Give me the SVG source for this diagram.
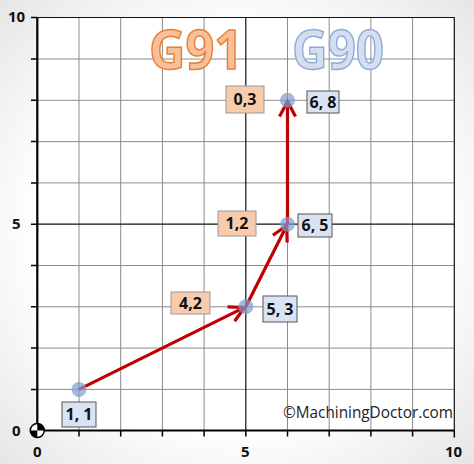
<svg xmlns="http://www.w3.org/2000/svg" width="474" height="464" viewBox="0 0 474 464">
<defs>
<radialGradient id="bg" cx="50%" cy="50%" r="70%">
<stop offset="0.6" stop-color="#ffffff"/>
<stop offset="1" stop-color="#e6e6e6"/>
</radialGradient>
<marker id="ah" markerUnits="userSpaceOnUse" markerWidth="30" markerHeight="30" viewBox="-20 -15 30 30" refX="0" refY="0" orient="auto">
<path d="M-15,-8 L0,0 L-15,8" fill="none" stroke="#c00000" stroke-width="3.2" stroke-linejoin="miter"/>
</marker>
</defs>
<style>
.grid{stroke:#8c8c8c;stroke-width:1;fill:none}
.major{stroke:#111;stroke-width:1.2;fill:none}
.axis{stroke:#000;stroke-width:2.2;fill:none}
.tick{stroke:#000;stroke-width:1.5;fill:none}
.ax{font-family:"Open Sans","Liberation Sans",sans-serif;font-weight:bold;font-size:15px;fill:#111}
.lbl{font-family:"Open Sans","Liberation Sans",sans-serif;font-weight:bold;font-size:16px;fill:#111;text-anchor:middle}
.bbox{fill:#dae3f3;stroke:#555;stroke-width:1}
.obox{fill:#f8cbad;stroke:#999;stroke-width:1}
.pt{fill:#7f9bd0;fill-opacity:0.7}
.arr{stroke:#c00000;stroke-width:3.2;fill:none;marker-end:url(#ah)}
</style>
<rect x="0" y="0" width="474" height="464" fill="url(#bg)"/>
<rect x="37.3" y="17.5" width="417" height="413" fill="#ffffff"/>
<g id="grid">
<path class="grid" d="M79,17.5V430.5M120.7,17.5V430.5M162.4,17.5V430.5M204.1,17.5V430.5M287.5,17.5V430.5M329.2,17.5V430.5M370.9,17.5V430.5M412.6,17.5V430.5"/>
<path class="grid" d="M37.3,59H454.3M37.3,100.3H454.3M37.3,141.6H454.3M37.3,182.9H454.3M37.3,265.5H454.3M37.3,306.8H454.3M37.3,348.1H454.3M37.3,389.4H454.3"/>
<path class="major" d="M245.8,17.5V430.5M37.3,224.2H454.3"/>
<path class="major" d="M37.3,17.5H454.3V430.5"/>
<path class="axis" d="M37.3,17.5V438M37.3,430.5H454.3"/>
<path class="tick" d="M79,430.5v6M120.7,430.5v6M162.4,430.5v6M204.1,430.5v6M245.8,430.5v6M287.5,430.5v6M329.2,430.5v6M370.9,430.5v6M412.6,430.5v6M454.3,430.5v7"/>
<path class="tick" d="M31,17.5h6.3M31,59h6.3M31,100.3h6.3M31,141.6h6.3M31,182.9h6.3M31,224.2h6.3M31,265.5h6.3M31,306.8h6.3M31,348.1h6.3M31,389.4h6.3"/>
</g>
<g id="axis-labels">
<text class="ax" x="8" y="22">10</text>
<text class="ax" x="12" y="229">5</text>
<text class="ax" x="12" y="436">0</text>
<text class="ax" x="33" y="457">0</text>
<text class="ax" x="241" y="457">5</text>
<text class="ax" x="445" y="457">10</text>
</g>
<g id="origin">
<circle cx="37.3" cy="430.5" r="7" fill="#fff" stroke="#000" stroke-width="1.5"/>
<path d="M37.3,430.5 L37.3,423.5 A7,7 0 0 1 44.3,430.5 Z M37.3,430.5 L37.3,437.5 A7,7 0 0 1 30.3,430.5 Z" fill="#000"/>
</g>
<g id="titles">
<text x="149" y="69" font-family="Open Sans, Liberation Sans, sans-serif" font-weight="bold" font-size="54" fill="#f8c09a" stroke="#ed7d31" stroke-width="1.5" textLength="94" lengthAdjust="spacingAndGlyphs">G91</text>
<text x="292" y="69" font-family="Open Sans, Liberation Sans, sans-serif" font-weight="bold" font-size="54" fill="#d4def0" stroke="#8faadc" stroke-width="1.5" textLength="92" lengthAdjust="spacingAndGlyphs">G90</text>
</g>
<g id="connectors">
<line class="arr" x1="79" y1="389.4" x2="244.5" y2="307.4"/>
<line class="arr" x1="245.8" y1="306.8" x2="286.8" y2="225.5"/>
<line class="arr" x1="287.5" y1="224.2" x2="287.5" y2="101.5"/>
</g>
<g id="p11"><circle class="pt" cx="79" cy="389.4" r="7.5"/><rect class="bbox" x="62" y="402" width="34" height="25"/><text class="lbl" x="79" y="420">1, 1</text></g>
<g id="p53"><circle class="pt" cx="245.8" cy="306.8" r="7.5"/><rect class="bbox" x="263" y="296" width="34" height="26"/><text class="lbl" x="280" y="314.5">5, 3</text></g>
<g id="p65"><circle class="pt" cx="287.5" cy="224.2" r="7.5"/><rect class="bbox" x="298" y="214" width="34" height="23"/><text class="lbl" x="315" y="231">6, 5</text></g>
<g id="p68"><circle class="pt" cx="287.5" cy="100.3" r="7.5"/><rect class="bbox" x="307" y="91" width="32" height="22"/><text class="lbl" x="323" y="107.5">6, 8</text></g>
<g id="d42"><rect class="obox" x="171" y="292" width="39" height="22"/><text class="lbl" x="190.5" y="308.5">4,2</text></g>
<g id="d12"><rect class="obox" x="218" y="211" width="38" height="25"/><text class="lbl" x="237" y="229">1,2</text></g>
<g id="d03"><rect class="obox" x="226" y="86" width="38" height="27"/><text class="lbl" x="245" y="105">0,3</text></g>
<text x="283" y="418" font-family="Open Sans, Liberation Sans, sans-serif" font-size="16" fill="#222" textLength="170" lengthAdjust="spacingAndGlyphs">©MachiningDoctor.com</text>
</svg>
